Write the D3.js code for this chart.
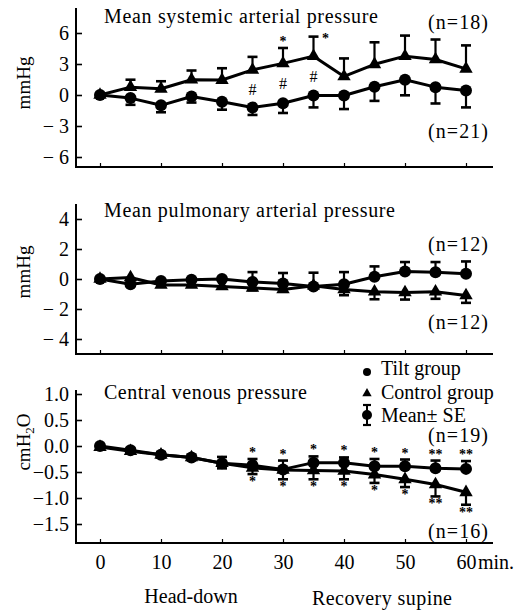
<!DOCTYPE html>
<html>
<head>
<meta charset="utf-8">
<script src="https://cdn.jsdelivr.net/npm/d3@7"></script>
<style>
  body { margin: 0; background: #fff; }
  svg text { font-family: "Liberation Serif", "DejaVu Serif", serif; fill: #000; }
</style>
</head>
<body>
<svg id="chart" width="519" height="611"></svg>
<script>
// time points (min), head-down 0-30, recovery supine 30-60
const minutes = [0, 5, 10, 15, 20, 25, 30, 35, 40, 45, 50, 55, 60];
const xTickValues = [0, 10, 20, 30, 40, 50, 60];

// Mean systemic arterial pressure (mmHg, change from baseline)
const mapControl   = [0, 0.76, 0.6, 1.48, 1.45, 2.43, 3.06, 3.76, 1.8, 2.97, 3.76, 3.44, 2.53];
const mapControlSE = [0, 0.72, 0.73, 0.89, 1.14, 1.26, 1.49, 1.89, 1.74, 2.13, 1.99, 1.93, 2.27];
const mapTilt      = [0, -0.3, -1.0, -0.15, -0.66, -1.2, -0.8, -0.05, -0.05, 0.8, 1.48, 0.76, 0.44];
const mapTiltSE    = [0, 0.65, 0.67, 0.58, 0.76, 0.73, 0.94, 1.15, 1.31, 1.37, 1.51, 1.58, 1.64];
const mapStars     = ['', '', '', '', '', '', '*', '*', '', '', '', '', ''];
const mapHashes    = ['', '', '', '', '', '#', '#', '#', '', '', '', '', ''];

// Mean pulmonary arterial pressure (mmHg)
const papTilt      = [0, -0.35, -0.13, -0.05, 0, -0.2, -0.3, -0.5, -0.35, 0.15, 0.5, 0.45, 0.35];
const papTiltSE    = [0, 0.1, 0.1, 0.1, 0.1, 0.66, 0.7, 0.92, 0.81, 0.69, 0.63, 0.68, 0.82];
const papControl   = [0, 0.1, -0.4, -0.4, -0.5, -0.6, -0.7, -0.45, -0.7, -0.85, -0.9, -0.85, -1.1];
const papControlSE = [0, 0.1, 0.1, 0.1, 0.1, 0.15, 0.15, 0.2, 0.38, 0.5, 0.47, 0.47, 0.49];

// Central venous pressure (cmH2O)
const cvpTilt      = [0, -0.08, -0.17, -0.22, -0.33, -0.37, -0.45, -0.32, -0.32, -0.39, -0.39, -0.43, -0.44];
const cvpTiltSE    = [0, 0.04, 0.05, 0.05, 0.12, 0.12, 0.17, 0.12, 0.1, 0.14, 0.13, 0.15, 0.15];
const cvpControl   = [-0.02, -0.1, -0.17, -0.22, -0.33, -0.42, -0.46, -0.47, -0.48, -0.55, -0.64, -0.74, -0.89];
const cvpControlSE = [0, 0.04, 0.05, 0.05, 0.1, 0.12, 0.18, 0.17, 0.16, 0.16, 0.15, 0.23, 0.24];
const cvpStarsTilt    = ['', '', '', '', '', '*', '*', '*', '*', '*', '*', '**', '**'];
const cvpStarsControl = ['', '', '', '', '', '*', '*', '*', '*', '*', '*', '**', '**'];

const svg = d3.select('#chart');
const axisLeftX = 76, axisRightX = 493;
const x = d3.scaleLinear().domain([0, 60]).range([100, 466]);

const minusFmt = d => d < 0 ? '\u2212 ' + Math.abs(d) : String(d);
const panels = [
  { title: 'Mean systemic arterial pressure', titleW: 274, titleY: 23, unit: 'mmHg', unitY: 83,
    domain: [-6, 6], range: [157, 33], ticks: [-6, -3, 0, 3, 6], fmt: minusFmt,
    top: 8, bottom: 167, nTop: '(n=18)', nTopY: 29, nBot: '(n=21)', nBotY: 138,
    series: [
      { v: mapControl, se: mapControlSE, dir: 1, shape: 'tri', stars: mapStars },
      { v: mapTilt, se: mapTiltSE, dir: -1, shape: 'circ' }
    ] },
  { title: 'Mean pulmonary arterial pressure', titleW: 291, titleY: 217, unit: 'mmHg', unitY: 272,
    domain: [-4, 4], range: [339, 219], ticks: [-4, -2, 0, 2, 4], fmt: minusFmt,
    top: 204, bottom: 354, nTop: '(n=12)', nTopY: 251, nBot: '(n=12)', nBotY: 329,
    series: [
      { v: papControl, se: papControlSE, dir: -1, shape: 'tri' },
      { v: papTilt, se: papTiltSE, dir: 1, shape: 'circ' }
    ] },
  { title: 'Central venous pressure', titleW: 203, titleY: 399, unit: 'cmH2O', unitY: 442,
    domain: [-1.5, 1.0], range: [524, 394], ticks: [-1.5, -1.0, -0.5, 0, 0.5, 1.0],
    fmt: d => (d < 0 ? '\u2212' : '') + Math.abs(d).toFixed(1),
    top: 390, bottom: 543, nTop: '(n=19)', nTopY: 442, nBot: '(n=16)', nBotY: 538, xLabels: true,
    series: [
      { v: cvpControl, se: cvpControlSE, dir: -1, shape: 'tri', stars: cvpStarsControl },
      { v: cvpTilt, se: cvpTiltSE, dir: 1, shape: 'circ', stars: cvpStarsTilt }
    ] }
];

const tri = d3.symbol(d3.symbolTriangle, 78);

function drawMarker(g, shape, cx, cy) {
  if (shape === 'circ') {
    g.append('circle').attr('cx', cx).attr('cy', cy).attr('r', 6).attr('fill', '#000');
  } else {
    g.append('path').attr('d', tri()).attr('transform', `translate(${cx},${cy})`).attr('fill', '#000');
  }
}

panels.forEach(p => {
  const y = d3.scaleLinear().domain(p.domain).range(p.range);
  const g = svg.append('g');

  // axis frame
  g.append('line').attr('x1', axisLeftX).attr('x2', axisLeftX).attr('y1', p.top).attr('y2', p.bottom + 1)
    .attr('stroke', '#000').attr('stroke-width', 2);
  g.append('line').attr('x1', axisLeftX - 1).attr('x2', axisRightX).attr('y1', p.bottom).attr('y2', p.bottom)
    .attr('stroke', '#000').attr('stroke-width', 2);

  const ya = g.append('g').attr('transform', `translate(${axisLeftX},0)`)
    .call(d3.axisLeft(y).tickValues(p.ticks).tickSizeInner(-6).tickSizeOuter(0).tickPadding(7).tickFormat(p.fmt));
  ya.select('.domain').remove();
  ya.selectAll('line').attr('stroke-width', 1.6);
  ya.selectAll('text').attr('font-size', 20).attr('font-family', '"Liberation Serif", serif');

  const xa = g.append('g').attr('transform', `translate(0,${p.bottom})`)
    .call(d3.axisBottom(x).tickValues(xTickValues).tickSizeInner(-4).tickSizeOuter(0).tickPadding(12)
      .tickFormat(p.xLabels ? d => d : () => ''));
  xa.select('.domain').remove();
  xa.selectAll('line').attr('stroke-width', 1.2);
  xa.selectAll('text').attr('font-size', 20).attr('font-family', '"Liberation Serif", serif');

  // title and n labels
  g.append('text').attr('x', 104).attr('y', p.titleY).attr('font-size', 20)
    .attr('textLength', p.titleW).attr('lengthAdjust', 'spacing').text(p.title);
  g.append('text').attr('x', 488).attr('y', p.nTopY).attr('font-size', 20).attr('text-anchor', 'end')
    .attr('textLength', 60).attr('lengthAdjust', 'spacing').text(p.nTop);
  g.append('text').attr('x', 488).attr('y', p.nBotY).attr('font-size', 20).attr('text-anchor', 'end')
    .attr('textLength', 60).attr('lengthAdjust', 'spacing').text(p.nBot);

  // unit label
  const ut = g.append('text').attr('transform', `translate(30,${p.unitY}) rotate(-90)`)
    .attr('text-anchor', 'middle').attr('font-size', 19);
  if (p.unit === 'cmH2O') {
    ut.append('tspan').text('cmH');
    ut.append('tspan').attr('font-size', 13).attr('dy', 4).text('2');
    ut.append('tspan').attr('dy', -4).text('O');
  } else {
    ut.text(p.unit);
  }

  // error bars
  p.series.forEach(s => {
    minutes.forEach((t, i) => {
      if (!s.se[i]) return;
      const yEnd = y(s.v[i] + s.dir * s.se[i]);
      g.append('line').attr('x1', x(t)).attr('x2', x(t)).attr('y1', y(s.v[i])).attr('y2', yEnd)
        .attr('stroke', '#000').attr('stroke-width', 2.2);
      g.append('line').attr('x1', x(t) - 5).attr('x2', x(t) + 5).attr('y1', yEnd).attr('y2', yEnd)
        .attr('stroke', '#000').attr('stroke-width', 2.6);
    });
  });

  // lines + markers
  const line = d3.line().x((d, i) => x(minutes[i])).y(d => y(d));
  p.series.forEach(s => {
    g.append('path').datum(s.v).attr('d', line).attr('fill', 'none')
      .attr('stroke', '#000').attr('stroke-width', 3).attr('stroke-linejoin', 'round');
  });
  p.series.forEach(s => {
    minutes.forEach((t, i) => drawMarker(g, s.shape, x(t), y(s.v[i])));
  });

  // significance marks
  p.series.forEach(s => {
    if (!s.stars) return;
    minutes.forEach((t, i) => {
      const st = s.stars[i];
      if (!st) return;
      const yEnd = y(s.v[i] + s.dir * s.se[i]);
      let sx = x(t), sy = s.dir > 0 ? yEnd - 2 : yEnd + 12;
      if (p === panels[0] && t === 35) { sx += 12; sy = yEnd + 6; }
      g.append('text').attr('x', sx).attr('y', sy).attr('text-anchor', 'middle')
        .attr('font-size', 14).attr('font-weight', 'bold').text(st);
    });
  });
  if (p === panels[0]) {
    minutes.forEach((t, i) => {
      if (!mapHashes[i]) return;
      const mid = (mapControl[i] + mapTilt[i]) / 2;
      g.append('text').attr('x', x(t)).attr('y', y(mid) + 6).attr('text-anchor', 'middle')
        .attr('font-size', 16).text(mapHashes[i]);
    });
  }

  if (p.xLabels) {
    g.append('text').attr('x', x(60) + 12).attr('y', p.bottom + 26).attr('font-size', 20).text('min.');
  }
});

// phase labels
svg.append('text').attr('x', 191).attr('y', 603).attr('text-anchor', 'middle').attr('font-size', 20).text('Head-down');
svg.append('text').attr('x', 382).attr('y', 605).attr('text-anchor', 'middle').attr('font-size', 20)
  .attr('textLength', 140).attr('lengthAdjust', 'spacing').text('Recovery supine');

// legend
const legend = svg.append('g');
const legendItems = ['Tilt group', 'Control group', 'Mean\u00b1 SE'];
const legendShapes = ['circ', 'tri', 'se'];
legendItems.forEach((label, i) => {
  const ly = 375 + i * 23.5;
  if (legendShapes[i] === 'se') {
    legend.append('line').attr('x1', 367).attr('x2', 367).attr('y1', ly - 17).attr('y2', ly + 3).attr('stroke', '#000').attr('stroke-width', 2);
    [-17, 3].forEach(o => legend.append('line').attr('x1', 363).attr('x2', 371).attr('y1', ly + o).attr('y2', ly + o).attr('stroke', '#000').attr('stroke-width', 2.2));
    legend.append('circle').attr('cx', 367).attr('cy', ly - 7).attr('r', 5).attr('fill', '#000');
  } else if (legendShapes[i] === 'circ') {
    legend.append('circle').attr('cx', 367).attr('cy', ly - 3).attr('r', 4).attr('fill', '#000');
  } else {
    legend.append('path').attr('d', d3.symbol(d3.symbolTriangle, 38)()).attr('transform', `translate(367,${ly - 5})`).attr('fill', '#000');
  }
  legend.append('text').attr('x', 381).attr('y', ly).attr('font-size', 20).text(label);
});
</script>
</body>
</html>
